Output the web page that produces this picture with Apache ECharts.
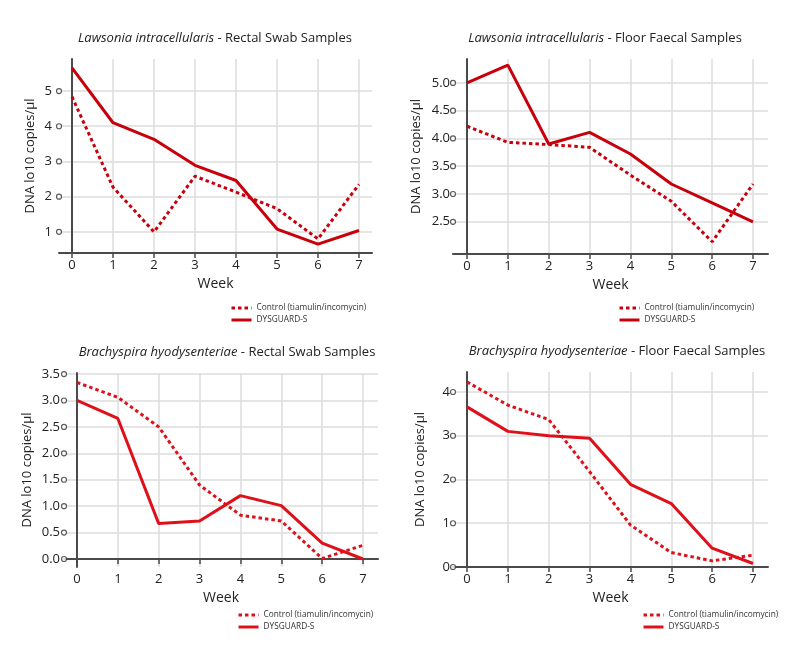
<!DOCTYPE html>
<html>
<head>
<meta charset="utf-8">
<script src="https://cdn.jsdelivr.net/npm/echarts@6/dist/echarts.min.js"></script>
<style>
  html, body { margin: 0; padding: 0; background: #fff; }
  #chart { width: 800px; height: 662px; }
</style>
</head>
<body>
<div id="chart"></div>
<script>
// weeks on the x axis
const weeks = [0, 1, 2, 3, 4, 5, 6, 7]

// Lawsonia intracellularis
const lawRectalControl = [4.84, 2.27, 1.0, 2.58, 2.13, 1.66, 0.8, 2.35]
const lawRectalDysguard = [5.66, 4.1, 3.63, 2.89, 2.46, 1.08, 0.65, 1.04]
const lawFloorControl = [4.22, 3.93, 3.89, 3.84, 3.34, 2.87, 2.14, 3.18]
const lawFloorDysguard = [5.0, 5.32, 3.9, 4.11, 3.72, 3.18, 2.84, 2.5]

// Brachyspira hyodysenteriae
const brachRectalControl = [3.34, 3.06, 2.5, 1.4, 0.83, 0.72, 0.01, 0.26]
const brachRectalDysguard = [3.0, 2.66, 0.67, 0.72, 1.2, 1.01, 0.3, 0.0]
const brachFloorControl = [4.23, 3.7, 3.37, 2.18, 0.96, 0.33, 0.14, 0.27]
const brachFloorDysguard = [3.66, 3.1, 3.0, 2.94, 1.89, 1.45, 0.43, 0.08]

// y tick labels
const yTicksLawRectal = [1, 2, 3, 4, 5]
const yTicksLawFloor = [2.5, 3, 3.5, 4, 4.5, 5]
const yTicksBrachRectal = [0, 0.5, 1, 1.5, 2, 2.5, 3, 3.5]
const yTicksBrachFloor = [0, 1, 2, 3, 4]

const CONTROL = 'Control (tiamulin/incomycin)'
const DYSGUARD = 'DYSGUARD-S'
const FONT = 'Open Sans'

const panels = [
  {
    genus: 'Lawsonia intracellularis', rest: ' - Rectal Swab Samples', titleX: 210,
    grid: { left: 59, top: 59, width: 313, height: 194 },
    xMin: -0.317, xMax: 7.317, yMin: 0.40, yMax: 5.91,
    yTicks: yTicksLawRectal, decimals: 0, nameGap: 22, labelMargin: 7,
    control: lawRectalControl, dysguard: lawRectalDysguard,
    color: '#c8000c', legend: { left: 230, top: 304 }
  },
  {
    genus: 'Lawsonia intracellularis', rest: ' - Floor Faecal Samples', titleX: 600,
    grid: { left: 453, top: 59, width: 315, height: 195 },
    xMin: -0.343, xMax: 7.367, yMin: 1.92, yMax: 5.43,
    yTicks: yTicksLawFloor, decimals: 1, nameGap: 30, labelMargin: 3,
    control: lawFloorControl, dysguard: lawFloorDysguard,
    color: '#c8000c', legend: { left: 618, top: 304 }
  },
  {
    genus: 'Brachyspira hyodysenteriae', rest: ' - Rectal Swab Samples', titleX: 222,
    grid: { left: 64, top: 373, width: 314, height: 194 },
    xMin: -0.318, xMax: 7.367, yMin: -0.151, yMax: 3.52,
    yTicks: yTicksBrachRectal, decimals: 1, nameGap: 30, labelMargin: 4,
    control: brachRectalControl, dysguard: brachRectalDysguard,
    color: '#e0101a', legend: { left: 237, top: 611 }
  },
  {
    genus: 'Brachyspira hyodysenteriae', rest: ' - Floor Faecal Samples', titleX: 612,
    grid: { left: 453, top: 372, width: 315, height: 195 },
    xMin: -0.343, xMax: 7.367, yMin: 0, yMax: 4.457,
    yTicks: yTicksBrachFloor, decimals: 0, nameGap: 26, labelMargin: 3,
    control: brachFloorControl, dysguard: brachFloorDysguard,
    color: '#e0101a', legend: { left: 642, top: 611 }
  }
]

const chart = echarts.init(document.getElementById('chart'))

let titles = [], grids = [], xAxes = [], yAxes = [], series = [], legends = []

panels.forEach((p, i) => {
  grids.push(p.grid)
  titles.push({
    text: '{i|' + p.genus + '}{n|' + p.rest + '}',
    left: p.titleX,
    top: p.grid.top - 32,
    textAlign: 'center',
    textStyle: {
      rich: {
        i: { fontFamily: FONT, fontSize: 13, fontStyle: 'italic', fontWeight: 'normal', color: '#222' },
        n: { fontFamily: FONT, fontSize: 13, fontWeight: 'normal', color: '#222' }
      }
    }
  })
  xAxes.push({
    type: 'value', gridIndex: i, min: p.xMin, max: p.xMax,
    name: 'Week', nameLocation: 'middle', nameGap: 24,
    nameTextStyle: { fontFamily: FONT, fontSize: 14, color: '#222' },
    axisLine: { lineStyle: { color: '#4a4a4a', width: 2 } },
    axisTick: { show: true, length: 5, customValues: weeks, lineStyle: { color: '#4a4a4a', width: 1.5 } },
    axisLabel: { customValues: weeks, fontFamily: FONT, fontSize: 13, color: '#222', margin: 6 },
    splitLine: { show: true, lineStyle: { color: '#dcdcdc', width: 1.5 } }
  })
  yAxes.push({
    type: 'value', gridIndex: i, min: p.yMin, max: p.yMax,
    name: 'DNA lo10 copies/µl', nameLocation: 'middle', nameGap: p.nameGap,
    nameTextStyle: { fontFamily: FONT, fontSize: 13, color: '#222' },
    axisLine: { show: true, lineStyle: { color: '#4a4a4a', width: 2 } },
    axisTick: { show: false, customValues: p.yTicks },
    axisLabel: {
      customValues: p.yTicks, fontFamily: FONT, fontSize: 13, color: '#222', margin: p.labelMargin,
      formatter: v => v.toFixed(p.decimals)
    },
    splitLine: { show: true, lineStyle: { color: '#dcdcdc', width: 1.5 } }
  })
  series.push({
    name: CONTROL, type: 'line', xAxisIndex: i, yAxisIndex: i,
    data: weeks.map((w, k) => [w, p.control[k]]),
    showSymbol: false, symbol: 'none', z: 3,
    lineStyle: { color: p.color, width: 3, type: [3.5, 3] },
    itemStyle: { color: p.color }
  })
  series.push({
    name: DYSGUARD, type: 'line', xAxisIndex: i, yAxisIndex: i,
    data: weeks.map((w, k) => [w, p.dysguard[k]]),
    showSymbol: false, symbol: 'none', z: 3,
    lineStyle: { color: p.color, width: 3 },
    itemStyle: { color: p.color }
  })
  // little open circles used as y ticks
  series.push({
    name: 'yticks' + i, type: 'scatter', xAxisIndex: i, yAxisIndex: i,
    data: p.yTicks.map(v => [p.xMin, v]),
    symbol: 'circle', symbolSize: 5, clip: false, silent: true, z: 5,
    itemStyle: { color: '#fff', borderColor: '#333', borderWidth: 1.2 }
  })
  legends.push({
    left: p.legend.left, top: p.legend.top, orient: 'vertical', padding: 0,
    itemWidth: 20, itemHeight: 10, itemGap: 4, selectedMode: false,
    itemStyle: { opacity: 0 },
    textStyle: { fontFamily: FONT, fontSize: 8.3, color: '#333' },
    data: [
      { name: CONTROL, lineStyle: { color: p.color, width: 3, type: [3.5, 3] } },
      { name: DYSGUARD, lineStyle: { color: p.color, width: 3 } }
    ]
  })
})

chart.setOption({
  animation: false,
  backgroundColor: '#fff',
  title: titles,
  grid: grids,
  xAxis: xAxes,
  yAxis: yAxes,
  legend: legends,
  series: series
})
</script>
</body>
</html>
